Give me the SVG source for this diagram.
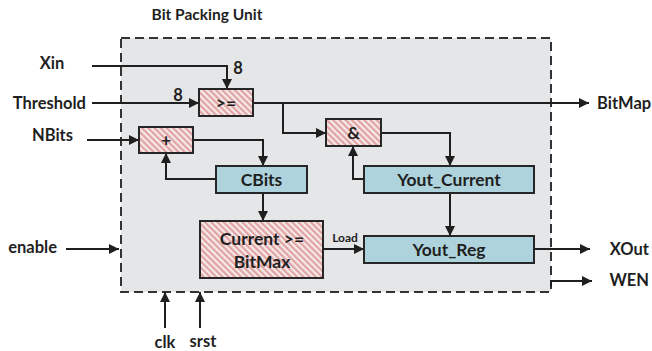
<svg xmlns="http://www.w3.org/2000/svg" width="652" height="351" viewBox="0 0 652 351">
  <style>
    text { font-family: Lato, "Liberation Sans", Arial, sans-serif; font-weight: bold; fill: #1f1f1f; }
    .lbl { font-size: 16.5px; }
    .box-label { font-size: 17.5px; text-anchor: middle; }
    .small { font-size: 12px; }
    .wire { fill: none; stroke: #1f1f1f; stroke-width: 2; }
    .reg { fill: #aed3dd; stroke: #262626; stroke-width: 2; }
    .op { fill: url(#hatch); stroke: #262626; stroke-width: 2; }
  </style>
  <defs>
    <pattern id="hatch" width="4.4" height="4.4" patternUnits="userSpaceOnUse" patternTransform="rotate(-45)">
      <rect width="4.4" height="4.4" fill="#f8eaea"/>
      <rect width="2.2" height="4.4" fill="#dfa3a3"/>
    </pattern>
    <marker id="arrow" viewBox="0 0 10 10" refX="10" refY="5" markerWidth="10" markerHeight="10" markerUnits="userSpaceOnUse" orient="auto">
      <path d="M0,0 L10,5 L0,10 Z" fill="#1f1f1f"/>
    </marker>
  </defs>

  <!-- module boundary -->
  <g id="unit">
    <rect x="121" y="38" width="430" height="254" fill="#e5e6e8" stroke="#333" stroke-width="2" stroke-dasharray="9,5"/>
    <text x="207" y="20" font-size="15.5" text-anchor="middle">Bit Packing Unit</text>
  </g>

  <!-- port labels -->
  <g id="ports">
    <text class="lbl" x="52" y="69" text-anchor="middle">Xin</text>
    <text class="lbl" x="86" y="109" text-anchor="end">Threshold</text>
    <text class="lbl" x="73" y="141" text-anchor="end">NBits</text>
    <text class="lbl" x="57" y="253" text-anchor="end">enable</text>
    <text class="lbl" x="597" y="109">BitMap</text>
    <text class="lbl" x="649" y="255" text-anchor="end" font-size="16">XOut</text>
    <text class="lbl" x="649" y="286" text-anchor="end" font-size="16">WEN</text>
    <text class="lbl" x="165" y="348" text-anchor="middle">clk</text>
    <text class="lbl" x="203" y="347" text-anchor="middle">srst</text>
    <text class="lbl" x="238" y="74" text-anchor="middle">8</text>
    <text class="lbl" x="178" y="101" text-anchor="middle">8</text>
    <text class="small" x="345" y="242" text-anchor="middle">Load</text>
  </g>

  <!-- connectors -->
  <g id="connectors">
    <path class="wire" d="M92,66 H227 V89" marker-end="url(#arrow)"/>
    <path class="wire" d="M92,103 H199" marker-end="url(#arrow)"/>
    <path class="wire" d="M253,103 H589" marker-end="url(#arrow)"/>
    <path class="wire" d="M283,103 V133 H326" marker-end="url(#arrow)"/>
    <path class="wire" d="M381,133 H450 V166" marker-end="url(#arrow)"/>
    <path class="wire" d="M87,140 H139" marker-end="url(#arrow)"/>
    <path class="wire" d="M193,140 H263 V166" marker-end="url(#arrow)"/>
    <path class="wire" d="M216,179 H166 V153" marker-end="url(#arrow)"/>
    <path class="wire" d="M364,179 H353 V146" marker-end="url(#arrow)"/>
    <path class="wire" d="M263,193 V221" marker-end="url(#arrow)"/>
    <path class="wire" d="M450,193 V236" marker-end="url(#arrow)"/>
    <path class="wire" d="M323,249 H364" marker-end="url(#arrow)"/>
    <path class="wire" d="M534,249 H590" marker-end="url(#arrow)"/>
    <path class="wire" d="M551,287 V281 H592" marker-end="url(#arrow)"/>
    <path class="wire" d="M66,249 H119" marker-end="url(#arrow)"/>
    <path class="wire" d="M165,328 V292" marker-end="url(#arrow)"/>
    <path class="wire" d="M200,328 V292" marker-end="url(#arrow)"/>
  </g>

  <!-- blocks -->
  <g id="cmp">
    <rect class="op" x="199" y="89" width="54" height="27"/>
    <text class="box-label" x="226" y="109">&gt;=</text>
  </g>
  <g id="and">
    <rect class="op" x="326" y="119" width="55" height="27"/>
    <text class="box-label" x="353.5" y="139">&amp;</text>
  </g>
  <g id="add">
    <rect class="op" x="139" y="127" width="54" height="26"/>
    <text class="box-label" x="166" y="146">+</text>
  </g>
  <g id="cbits">
    <rect class="reg" x="216" y="166" width="91" height="27"/>
    <text class="box-label" x="261.5" y="186">CBits</text>
  </g>
  <g id="yout-current">
    <rect class="reg" x="364" y="166" width="170" height="27"/>
    <text class="box-label" x="449" y="186">Yout_Current</text>
  </g>
  <g id="bitmax-check">
    <rect class="op" x="200" y="221" width="123" height="57"/>
    <text class="box-label" x="262" y="245">Current &gt;=</text>
    <text class="box-label" x="262" y="268">BitMax</text>
  </g>
  <g id="yout-reg">
    <rect class="reg" x="364" y="236" width="170" height="27"/>
    <text class="box-label" x="449" y="256">Yout_Reg</text>
  </g>
</svg>
